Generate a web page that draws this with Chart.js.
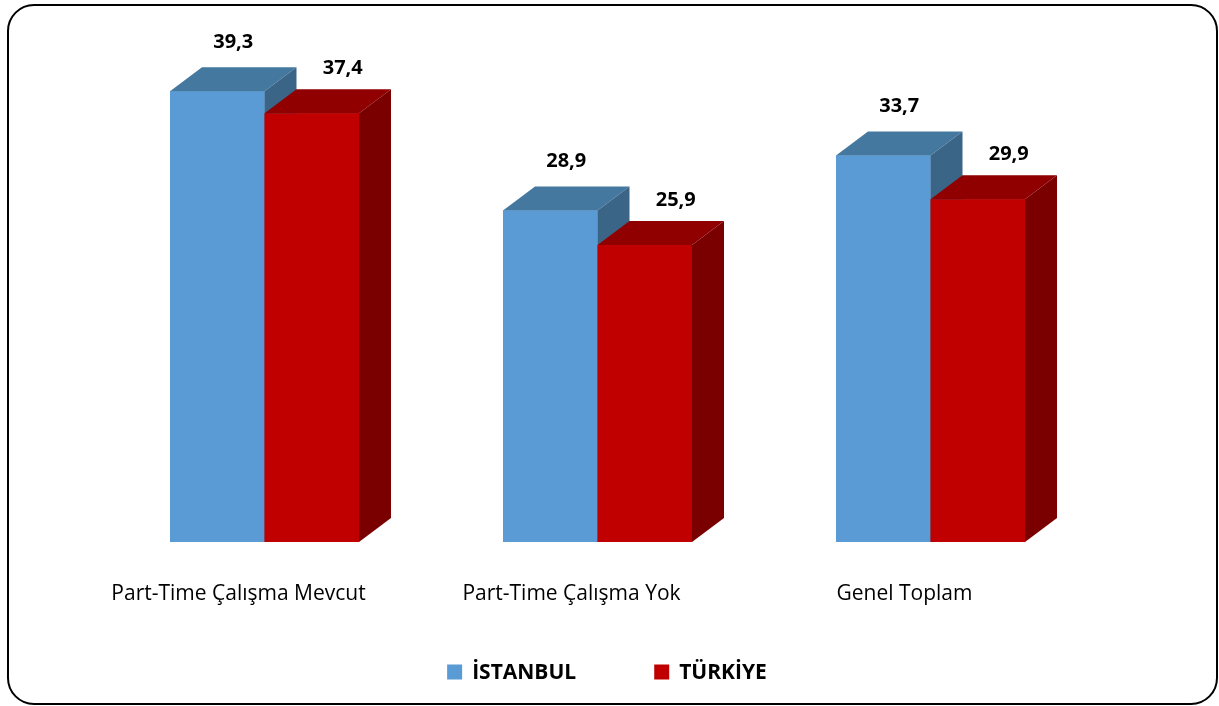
<!DOCTYPE html>
<html>
<head>
<meta charset="utf-8">
<script src="https://cdn.jsdelivr.net/npm/chart.js@4.4.0/dist/chart.umd.min.js"></script>
<style>
  html, body { margin: 0; padding: 0; background: #ffffff; }
</style>
</head>
<body>
<canvas id="barChart" width="1219" height="706"></canvas>
<script>
// Chart data
const categories = ['Part-Time Çalışma Mevcut', 'Part-Time Çalışma Yok', 'Genel Toplam'];
const seriesNames = ['İSTANBUL', 'TÜRKİYE'];
const istanbulValues = [39.3, 28.9, 33.7];
const turkiyeValues = [37.4, 25.9, 29.9];

// colours: front, top, side
const blueFaces = ['#5b9bd5', '#45789f', '#3b6587'];
const redFaces = ['#c00000', '#900000', '#7a0000'];

const DEPTH_X = 32;
const DEPTH_Y = 24;

function fmt(v) {
  return v.toFixed(1).replace('.', ',');
}

// frame round the whole picture
const framePlugin = {
  id: 'frame',
  beforeDraw(chart) {
    const ctx = chart.ctx;
    ctx.save();
    ctx.fillStyle = '#ffffff';
    ctx.fillRect(0, 0, chart.width, chart.height);
    ctx.beginPath();
    ctx.roundRect(8, 5, 1209, 699, 26);
    ctx.lineWidth = 2;
    ctx.strokeStyle = '#000000';
    ctx.stroke();
    ctx.restore();
  }
};

// redraw the bars in series order with their top and side faces
const bars3dPlugin = {
  id: 'bars3d',
  afterDatasetsDraw(chart) {
    const ctx = chart.ctx;
    const faces = [blueFaces, redFaces];
    ctx.save();
    chart.data.datasets.forEach((ds, i) => {
      const meta = chart.getDatasetMeta(i);
      meta.data.forEach(bar => {
        const left = bar.x - bar.width / 2;
        const right = bar.x + bar.width / 2;
        const top = bar.y;
        const base = bar.base;
        bar.draw(ctx);
        // top face
        ctx.beginPath();
        ctx.moveTo(left, top);
        ctx.lineTo(left + DEPTH_X, top - DEPTH_Y);
        ctx.lineTo(right + DEPTH_X, top - DEPTH_Y);
        ctx.lineTo(right, top);
        ctx.closePath();
        ctx.fillStyle = faces[i][1];
        ctx.fill();
        // side face
        ctx.beginPath();
        ctx.moveTo(right, top);
        ctx.lineTo(right + DEPTH_X, top - DEPTH_Y);
        ctx.lineTo(right + DEPTH_X, base - DEPTH_Y);
        ctx.lineTo(right, base);
        ctx.closePath();
        ctx.fillStyle = faces[i][2];
        ctx.fill();
      });
    });

    // value labels
    const labelShift = [{ dx: 16, dy: 49 }, { dx: 31, dy: 45 }];
    ctx.font = 'bold 20px "Open Sans"';
    ctx.fillStyle = '#000000';
    ctx.textAlign = 'center';
    ctx.textBaseline = 'middle';
    chart.data.datasets.forEach((ds, i) => {
      const meta = chart.getDatasetMeta(i);
      meta.data.forEach((bar, j) => {
        ctx.fillText(fmt(ds.data[j]), bar.x + labelShift[i].dx, bar.y - labelShift[i].dy);
      });
    });

    // legend
    ctx.font = 'bold 21px "Open Sans"';
    ctx.textAlign = 'left';
    const box = 15;
    const gap = 10;
    const between = 78;
    let total = 0;
    const widths = seriesNames.map(n => ctx.measureText(n).width);
    widths.forEach((w, i) => { total += box + gap + w + (i > 0 ? between : 0); });
    let x = 607 - total / 2;
    const y = 672;
    seriesNames.forEach((name, i) => {
      ctx.fillStyle = faces[i][0];
      ctx.fillRect(x, y - box / 2, box, box);
      ctx.fillStyle = '#000000';
      ctx.fillText(name, x + box + gap, y + 1);
      x += box + gap + widths[i] + between;
    });
    ctx.restore();
  }
};

Chart.defaults.font.family = '"Open Sans", sans-serif';

const ctx = document.getElementById('barChart').getContext('2d');
new Chart(ctx, {
  type: 'bar',
  data: {
    labels: categories,
    datasets: [
      {
        label: seriesNames[0],
        data: istanbulValues,
        backgroundColor: blueFaces[0],
        borderWidth: 0
      },
      {
        label: seriesNames[1],
        data: turkiyeValues,
        backgroundColor: redFaces[0],
        borderWidth: 0
      }
    ]
  },
  options: {
    responsive: false,
    animation: false,
    layout: {
      padding: { left: 98, right: 122, top: 26, bottom: 84 }
    },
    datasets: {
      bar: {
        barPercentage: 1,
        categoryPercentage: 0.5676
      }
    },
    plugins: {
      legend: { display: false },
      tooltip: { enabled: false }
    },
    scales: {
      y: {
        display: false,
        min: 0,
        max: 45
      },
      x: {
        grid: { display: false },
        border: { display: false },
        afterFit(scale) {
          scale.height = 80;
        },
        ticks: {
          color: '#000000',
          font: { size: 21 },
          padding: 31,
          labelOffset: -26,
          maxRotation: 0,
          autoSkip: false
        }
      }
    }
  },
  plugins: [framePlugin, bars3dPlugin]
});
</script>
</body>
</html>
